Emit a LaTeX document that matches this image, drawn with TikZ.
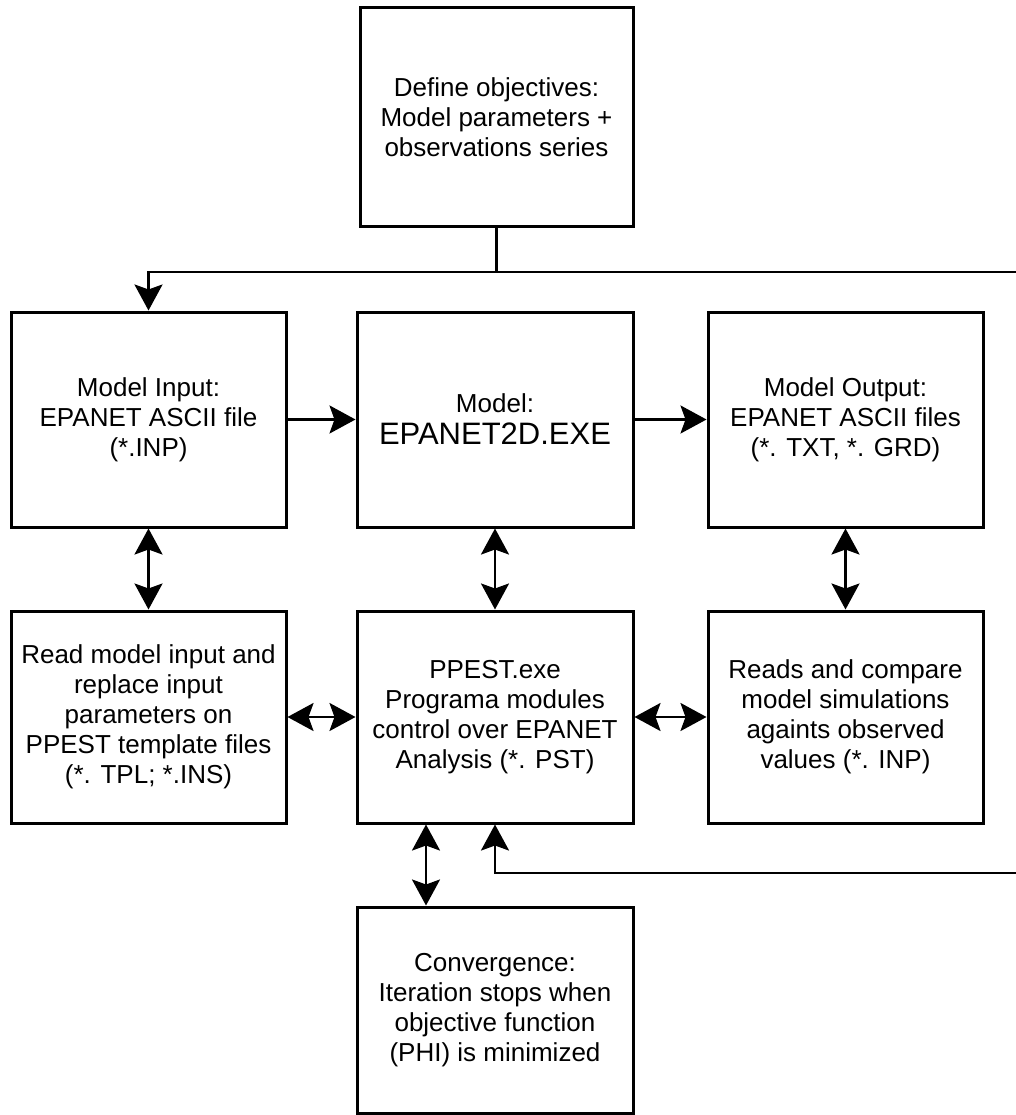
\documentclass[tikz,border=0pt]{standalone}
\usepackage{fontspec}
\setmainfont{Liberation Sans}
\usetikzlibrary{arrows.meta}
\begin{document}
\begin{tikzpicture}[x=1pt,y=-1pt,
  box/.style={draw=black, line width=3pt, rectangle, align=center, inner sep=0pt,
    font=\fontsize{26}{30}\selectfont},
  arr/.style={line width=2.6pt, -{Stealth[length=26pt,width=28pt,inset=5pt]}},
  darr/.style={line width=2.6pt, {Stealth[length=26pt,width=28pt,inset=5pt]}-{Stealth[length=26pt,width=28pt,inset=5pt]}},
  plain/.style={line width=2.6pt}]
\useasboundingbox[fill=white] (0,0) rectangle (1016,1115);

\node[box, minimum width=273pt, minimum height=219pt] (obj) at (496.5,117.5)
  {Define objectives:\\Model parameters +\\observations series};

\node[box, minimum width=275pt, minimum height=215pt] (inp) at (148.5,419.5)
  {Model Input:\\EPANET ASCII file\\(*.INP)};
\node[box, minimum width=276pt, minimum height=215pt] (model) at (495,419.5)
  {Model:\\[2pt]{\fontsize{31}{34}\selectfont EPANET2D.EXE}};
\node[box, minimum width=275pt, minimum height=215pt] (out) at (845.5,419.5)
  {Model Output:\\EPANET ASCII files\\(*. TXT, *. GRD)};

\node[box, minimum width=275pt, minimum height=212pt] (tpl) at (148.5,717)
  {Read model input and\\replace input\\parameters on\\PPEST template files\\(*. TPL; *.INS)};
\node[box, minimum width=276pt, minimum height=212pt] (ppest) at (495,717)
  {PPEST.exe\\Programa modules\\control over EPANET\\Analysis (*. PST)};
\node[box, minimum width=275pt, minimum height=212pt] (cmp) at (845.5,717)
  {Reads and compare\\model simulations\\againts observed\\values (*. INP)};

\node[box, minimum width=276pt, minimum height=206pt] (conv) at (495,1010)
  {Convergence:\\Iteration stops when\\objective function\\(PHI) is minimized};

\coordinate (j) at (496.5,272);
\coordinate (rtop) at (1016,272);
\coordinate (rbot) at (1016,873);

\draw[plain] (obj.south) -- (j);
\draw[arr] (rtop) -| (inp.north);

\draw[arr] (inp.east) -- (model.west);
\draw[arr] (model.east) -- (out.west);

\draw[darr] (inp.south) -- (tpl.north);
\draw[darr] (model.south) -- (ppest.north);
\draw[darr] (out.south) -- (cmp.north);

\draw[darr] (tpl.east) -- (ppest.west);
\draw[darr] (cmp.west) -- (ppest.east);

\draw[darr] ([xshift=-69pt]ppest.south) -- ([xshift=-69pt]conv.north);
\draw[arr] (rbot) -| (ppest.south);
\end{tikzpicture}
\end{document}
